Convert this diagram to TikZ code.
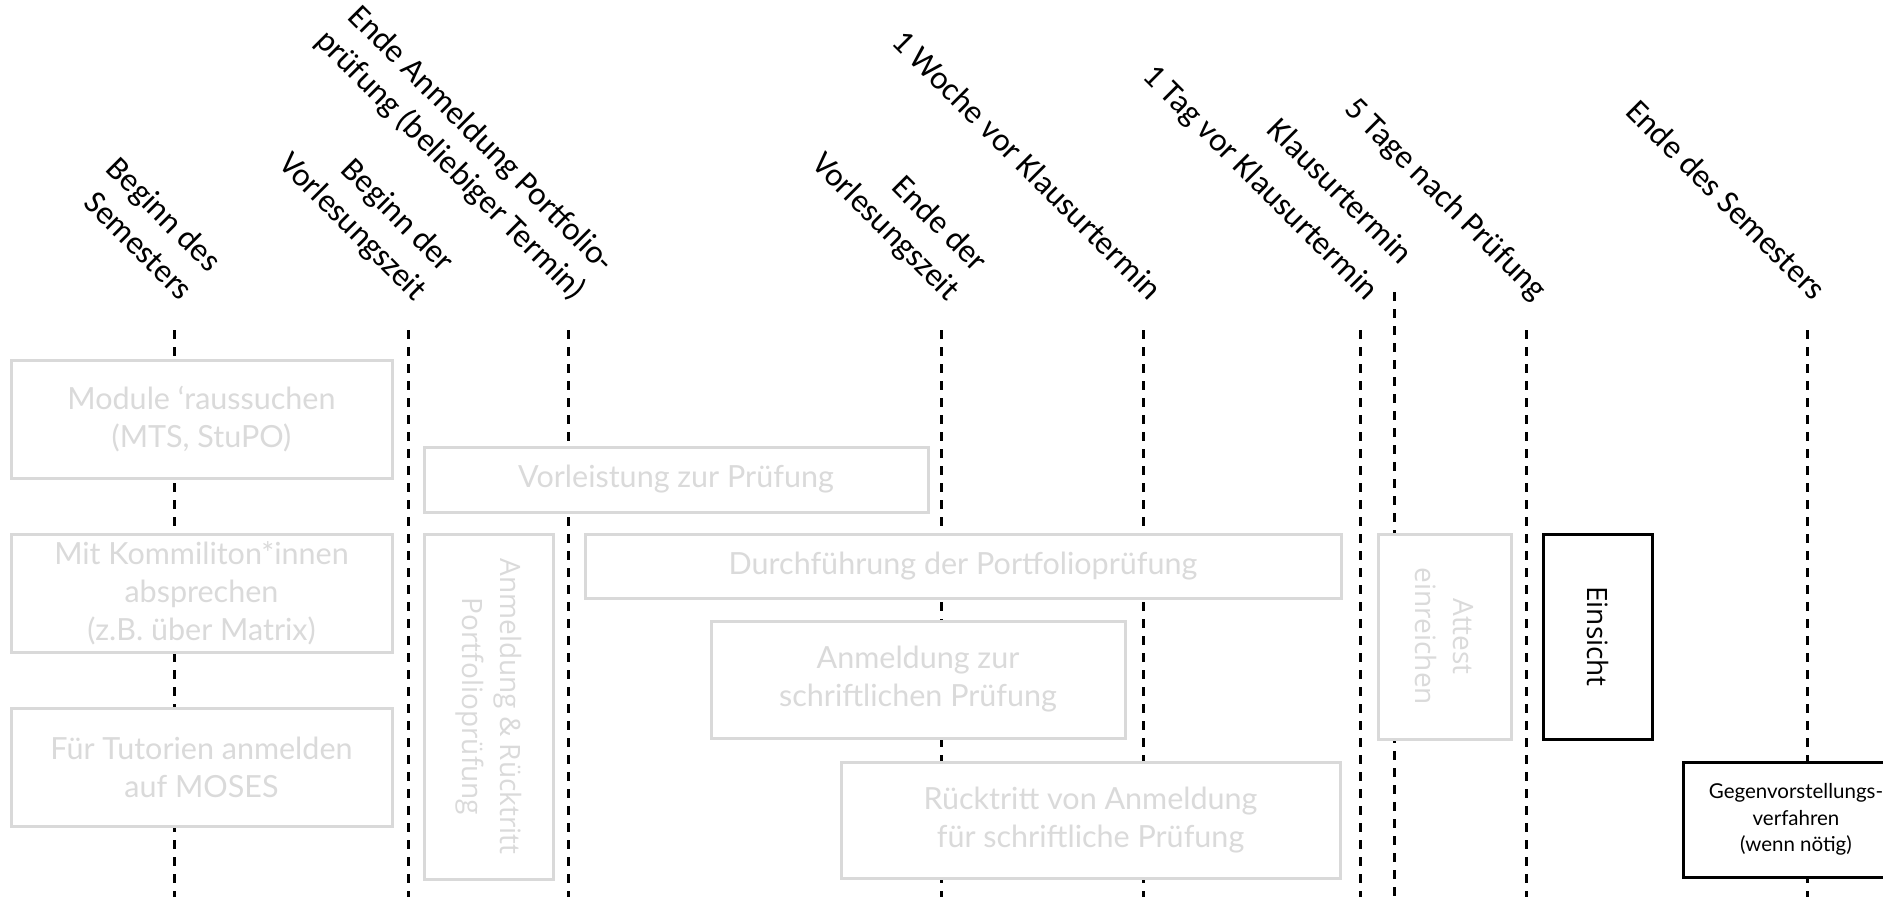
\documentclass[tikz,border=0pt]{standalone}
\usepackage{fontspec}
\setmainfont{Lato}
\newfontfamily\lblfont{Carlito}
\newfontfamily\osfont{Open Sans}
\newfontfamily\latofont{Lato}
\usetikzlibrary{calc}
\definecolor{boxgray}{RGB}{217,217,217}
\definecolor{txtgray}{RGB}{218,218,218}
\begin{document}
\begin{tikzpicture}[x=1pt,y=-1pt,
  dashline/.style={line width=3pt, dash pattern=on 9pt off 8pt, black},
  lbl/.style={font=\lblfont\fontsize{33}{40}\selectfont, rotate=-45, anchor=base east, inner sep=0pt, align=right},
  gbox/.style={draw=boxgray, line width=3pt, fill=white, text=txtgray, align=center, inner sep=0pt,
    font=\latofont\fontsize{30.5}{38}\selectfont},
  gvbox/.style={gbox, rotate=-90, font=\osfont\fontsize{28}{38}\selectfont},
  bbox/.style={draw=black, line width=3pt, fill=white, text=black, align=center, inner sep=0pt}
]
\clip (0,0) rectangle (1883,897);
\fill[white] (0,0) rectangle (1883,897);
% timeline coordinates
\foreach \n/\x/\t in {1/174/330, 2/408/330, 3/568/330, 4/941/330, 5/1143/330, 6/1360/330, 7/1394/292, 8/1526/330, 9/1807/330} {
  \coordinate (t\n) at (\x,\t);
  \coordinate (b\n) at (\x,897);
}
\foreach \n in {1,...,9} { \draw[dashline] (t\n) -- (b\n); }
% labels
\node[lbl] (l1) at ($(t1)+(6,-28)$) {Beginn des\\Semesters};
\node[lbl] (l2) at ($(t2)+(6,-28)$) {Beginn der\\Vorlesungszeit};
\node[lbl] (l3) at ($(t3)+(6,-28)$) {Ende Anmeldung Portfolio-\\prüfung (beliebiger Termin)};
\node[lbl] (l4) at ($(t4)+(6,-28)$) {Ende der\\Vorlesungszeit};
\node[lbl] (l5) at ($(t5)+(6,-28)$) {1 Woche vor Klausurtermin};
\node[lbl] (l6) at ($(t6)+(6,-28)$) {1 Tag vor Klausurtermin};
\node[lbl] (l7) at ($(t7)+(6,-26)$) {Klausurtermin};
\node[lbl] (l8) at ($(t8)+(9,-28)$) {5 Tage nach Prüfung};
\node[lbl] (l9) at ($(t9)+(6,-28)$) {Ende des Semesters};
% boxes
\node[gbox, minimum width=381pt, minimum height=118pt] (module) at (201.5,419) {Module ‘raussuchen\\(MTS, StuPO)};
\node[gbox, minimum width=381pt, minimum height=118pt] (kommi) at (201.5,593) {Mit Kommiliton*innen\\absprechen\\(z.B. über Matrix)};
\node[gbox, minimum width=381pt, minimum height=118pt] (tutor) at (201.5,767) {Für Tutorien anmelden\\auf MOSES};
\node[gbox, minimum width=504pt, minimum height=65pt] (vorl) at (676,479.5) {Vorleistung zur Prüfung};
\node[gvbox, minimum width=345pt, minimum height=129pt] (anmp) at (488.5,706.5) {Anmeldung \& Rücktritt\\Portfolioprüfung};
\node[gbox, minimum width=756pt, minimum height=64pt] (durch) at (963,566) {Durchführung der Portfolioprüfung};
\node[gbox, minimum width=414pt, minimum height=117pt] (anms) at (918,679.5) {Anmeldung zur\\schriftlichen Prüfung};
\node[gbox, minimum width=499pt, minimum height=116pt] (rueck) at (1090.5,820) {Rücktritt von Anmeldung\\für schriftliche Prüfung};
\node[gvbox, minimum width=205pt, minimum height=133pt] (attest) at (1444.5,636.5) {Attest\\einreichen};
\node[bbox, rotate=-90, font=\osfont\fontsize{28}{38}\selectfont, minimum width=205pt, minimum height=109pt] (einsicht) at (1597.5,636.5) {Einsicht};
\node[bbox, font=\latofont\fontsize{20.5}{26.5}\selectfont, minimum width=226pt, minimum height=115pt] (gegen) at (1796,819.5) {Gegenvorstellungs-\\verfahren\\(wenn nötig)};
\end{tikzpicture}
\end{document}
